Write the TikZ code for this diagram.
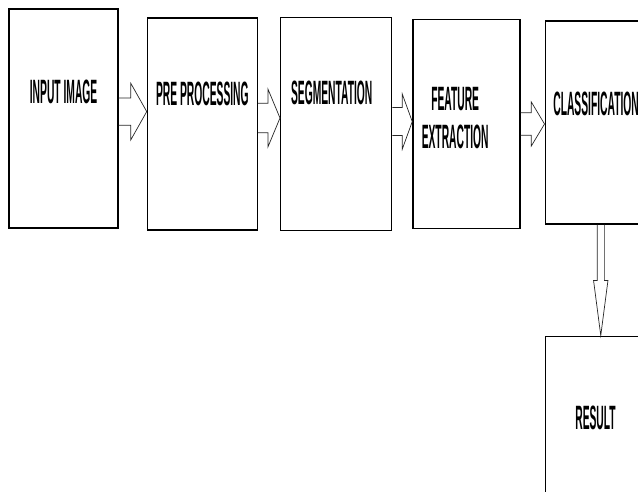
\documentclass[tikz,border=0pt]{standalone}
\usepackage{fontspec}
\setmainfont{Liberation Sans}[FakeStretch=0.305]
\usetikzlibrary{positioning,calc}

% hollow block arrow: tail, tip, shaft half width, head half width, head length
\newcommand{\flowarrow}[5]{%
  \draw[arrowline] let \p1=(#1), \p2=(#2) in
    (\x1,\y1+#3) -- (\x2-#5,\y1+#3) -- (\x2-#5,\y1+#4) -- (\x2,\y1)
    -- (\x2-#5,\y1-#4) -- (\x2-#5,\y1-#3) -- (\x1,\y1-#3);}

\begin{document}
\begin{tikzpicture}[stage/.style={draw, line width=0.9pt, inner sep=0pt},
    lbl/.style={font=\fontsize{24}{27}\selectfont\bfseries, align=center, inner sep=0pt},
    arrowline/.style={draw=black!85, line width=0.5pt, line join=miter}]
        \useasboundingbox (0,0) rectangle (15.95,12.3);
        \node[stage, minimum width=2.725cm, minimum height=5.475cm] (in) at (1.59,9.34) {};
        \node[stage, minimum width=2.75cm, minimum height=5.3cm, right=0.7cm of in, yshift=-0.14cm] (pre) {};
        \node[stage, minimum width=2.775cm, minimum height=5.325cm, right=0.55cm of pre] (seg) {};
        \node[stage, minimum width=2.675cm, minimum height=5.225cm, right=0.5cm of seg] (feat) {};
        \node[stage, minimum width=2.7cm, minimum height=5.075cm, right=0.6cm of feat, yshift=0.04cm] (cls) {};
        \node[stage, minimum width=2.7cm, minimum height=5cm, below=2.775cm of cls] (res) {};
        % labels
        \node[lbl] (inT) at ($(in.north)+(0,-2.09)$) {INPUT IMAGE};
        \node[lbl] (preT) at ($(pre.north)+(0,-1.925)$) {PRE PROCESSING};
        \node[lbl] (segT) at ($(seg.north)+(-0.11,-1.89)$) {SEGMENTATION};
        \node[lbl] (featT) at ($(feat.north)+(-0.28,-2.475)$) {FEATURE\\EXTRACTION};
        \node[lbl] (clsT) at ($(cls.north west)+(1.29,-2.1)$) {CLASSIFICATION};
        \node[lbl] (resT) at ($(res.north west)+(1.275,-2.06)$) {RESULT};
        % arrows
        \coordinate (a1) at ($(in.east)+(0,0.17)$);
        \flowarrow{a1}{pre.west |- a1}{0.34cm}{0.71cm}{0.4cm}
        \coordinate (a2) at ($(pre.east)+(0,0.15)$);
        \flowarrow{a2}{seg.west |- a2}{0.37cm}{0.72cm}{0.3cm}
        \coordinate (a3) at ($(seg.east)+(0,0.06)$);
        \flowarrow{a3}{feat.west |- a3}{0.35cm}{0.69cm}{0.25cm}
        \coordinate (a4) at (feat.east);
        \flowarrow{a4}{cls.west |- a4}{0.28cm}{0.55cm}{0.33cm}
        \coordinate (a5) at ($(cls.south)+(0.04,0)$);
        \draw[arrowline] let \p1=(a5), \p2=(res.north -| a5) in
          (\x1-0.09cm,\y1) -- (\x1-0.09cm,\y2+1.375cm) -- (\x1-0.18cm,\y2+1.375cm) -- (\x2,\y2)
          -- (\x1+0.18cm,\y2+1.375cm) -- (\x1+0.09cm,\y2+1.375cm) -- (\x1+0.09cm,\y1);
      \end{tikzpicture}
\end{document}
